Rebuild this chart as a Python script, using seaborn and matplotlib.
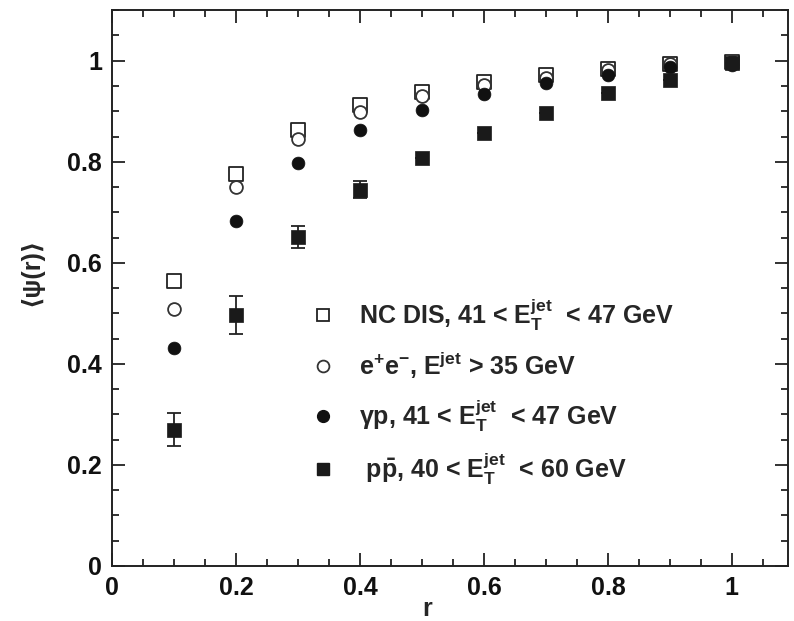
import numpy as np
import pandas as pd
import matplotlib
matplotlib.use("Agg")
import matplotlib.pyplot as plt
import seaborn as sns
from matplotlib.ticker import MultipleLocator
from matplotlib.lines import Line2D

r = [0.1, 0.2, 0.3, 0.4, 0.5, 0.6, 0.7, 0.8, 0.9, 1.0]
nc_dis = [0.565, 0.775, 0.862, 0.913, 0.938, 0.957, 0.972, 0.984, 0.994, 0.998]
ee = [0.509, 0.750, 0.846, 0.899, 0.930, 0.952, 0.966, 0.982, 0.993, 0.998]
gp = [0.432, 0.683, 0.798, 0.863, 0.903, 0.935, 0.956, 0.972, 0.988, 0.992]
gp_err = [0.008, 0.0, 0.0, 0.0, 0.0, 0.0, 0.0, 0.0, 0.0, 0.0]
ppbar = [0.270, 0.497, 0.651, 0.745, 0.808, 0.857, 0.897, 0.937, 0.962, 0.995]
ppbar_err = [0.032, 0.038, 0.022, 0.016, 0.0, 0.0, 0.0, 0.0, 0.0, 0.0]

labels = [
    r"NC DIS, 41 < E$_\mathrm{T}^\mathrm{jet}$  < 47 GeV",
    r"e$^\mathrm{+}$e$^\mathrm{-}$, E$^\mathrm{jet}$ > 35 GeV",
    r"γp, 41 < E$_\mathrm{T}^\mathrm{jet}$  < 47 GeV",
    r" p$\bar{\mathrm{p}}$, 40 < E$_\mathrm{T}^\mathrm{jet}$  < 60 GeV",
]

sns.set_theme(style="ticks")
plt.rcParams["font.family"] = ["Liberation Sans", "DejaVu Sans"]
plt.rcParams["font.weight"] = "bold"
plt.rcParams["mathtext.fontset"] = "custom"
plt.rcParams["mathtext.rm"] = "Liberation Sans:bold"
plt.rcParams["mathtext.it"] = "Liberation Sans:bold"
plt.rcParams["mathtext.bf"] = "Liberation Sans:bold"

FS = 18

fig = plt.figure(figsize=(7.94, 6.21), dpi=100)
ax = fig.add_axes([0.141, 0.0886, 0.851, 0.895])

df = pd.DataFrame({"r": r, "nc": nc_dis, "ee": ee, "gp": gp, "pp": ppbar})

sns.scatterplot(data=df, x="r", y="nc", marker="s", s=95, facecolor="white",
                edgecolor="#222222", linewidth=1.3, ax=ax, zorder=3)
sns.scatterplot(data=df, x="r", y="ee", marker="o", s=85, facecolor="white",
                edgecolor="#333333", linewidth=1.3, ax=ax, zorder=3)
ax.errorbar(r, gp, yerr=gp_err, fmt="none", ecolor="#222222", elinewidth=1.3,
            capsize=0, zorder=4)
sns.scatterplot(data=df, x="r", y="gp", marker="o", s=85, color="#111111",
                edgecolor="#111111", linewidth=0.5, ax=ax, zorder=5)
ax.errorbar(r, ppbar, yerr=ppbar_err, fmt="none", ecolor="#222222",
            elinewidth=1.3, capsize=5, capthick=1.3, zorder=4)
sns.scatterplot(data=df, x="r", y="pp", marker="s", s=95, color="#1a1a1a",
                edgecolor="#1a1a1a", linewidth=0.5, ax=ax, zorder=5)

ax.set_xlim(0, 1.09)
ax.set_ylim(0, 1.1)
ax.xaxis.set_minor_locator(MultipleLocator(0.05))
ax.yaxis.set_minor_locator(MultipleLocator(0.05))
ax.set_xticks([0, 0.2, 0.4, 0.6, 0.8, 1.0])
ax.set_xticklabels(["0", "0.2", "0.4", "0.6", "0.8", "1"])
ax.set_yticks([0, 0.2, 0.4, 0.6, 0.8, 1.0])
ax.set_yticklabels(["0", "0.2", "0.4", "0.6", "0.8", "1"])
ax.tick_params(which="both", direction="in", top=True, right=True,
               color="#222222", width=1.3, labelsize=FS, labelcolor="#111111")
ax.tick_params(which="major", length=9.5, pad=7)
ax.tick_params(which="minor", length=5)
for s in ax.spines.values():
    s.set_linewidth(1.4)
    s.set_color("#222222")

ax.set_xlabel("r", fontsize=FS, fontweight="bold")
ax.set_ylabel("⟨ψ(r)⟩", fontsize=FS, fontweight="bold")
ax.xaxis.set_label_coords(0.466, -0.055)
ax.yaxis.set_label_coords(-0.102, 0.53)

handles = [
    Line2D([], [], marker="s", ls="none", ms=9, mfc="white", mec="#222222", mew=1.3),
    Line2D([], [], marker="o", ls="none", ms=8.5, mfc="white", mec="#333333", mew=1.3),
    Line2D([], [], marker="o", ls="none", ms=8.5, mfc="#111111", mec="#111111"),
    Line2D([], [], marker="s", ls="none", ms=9, mfc="#1a1a1a", mec="#1a1a1a"),
]
ax.legend(handles, labels, loc="upper left", bbox_to_anchor=(0.294, 0.485),
          frameon=False, fontsize=FS, labelspacing=0.66, handletextpad=0.95,
          handlelength=1.0, borderaxespad=0, borderpad=0)

fig.savefig("out.png", dpi=100)
